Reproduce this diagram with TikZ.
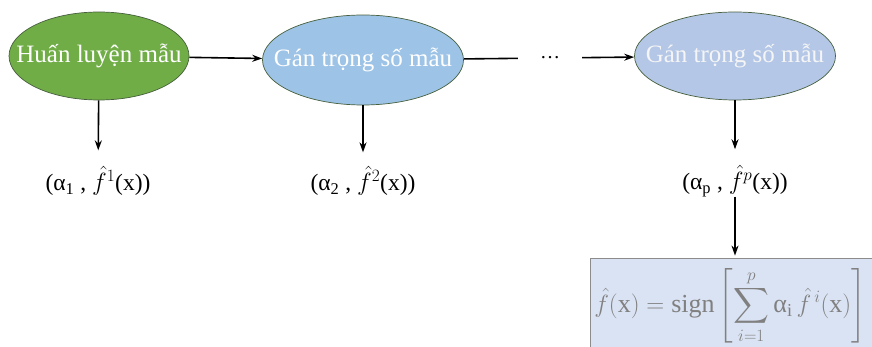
\documentclass[tikz,border=0pt]{standalone}
\usepackage{amsmath}
\usepackage{fontspec}
\setmainfont{Liberation Serif}
\usetikzlibrary{shapes.geometric,arrows.meta}
\definecolor{greenfill}{HTML}{70AD47}
\definecolor{bluefill}{HTML}{9DC3E6}
\definecolor{bluefillb}{HTML}{B4C7E7}
\definecolor{edgecol}{RGB}{70,95,60}
\definecolor{boxfill}{HTML}{DAE3F3}
\definecolor{boxedge}{HTML}{8C8C8C}
\definecolor{boxtext}{HTML}{808080}
\begin{document}
\begin{tikzpicture}[x=1pt,y=-1pt,
  ell/.style={ellipse, draw=edgecol, line width=0.7pt, text=white,
    font=\fontsize{25}{28}\selectfont, inner sep=0pt},
  lbl/.style={font=\fontsize{23.5}{27}\selectfont, inner sep=2pt},
  conn/.style={line width=1.6pt, draw=black},
  arr/.style={conn, -{Stealth[length=10pt,width=7pt]}}
]
\useasboundingbox (0,0) rectangle (872,347);
\clip (0,0) rectangle (872,347);

\node[ell, fill=greenfill, minimum width=180pt, minimum height=88pt] (e1) at (99,56)
  {\makebox[0pt][c]{Huấn luyện mẫu}};
\node[ell, fill=bluefill, minimum width=201pt, minimum height=90pt] (e2) at (363,60)
  {\makebox[0pt][c]{Gán trọng số mẫu}};
\node[ell, fill=bluefillb, minimum width=201pt, minimum height=88pt, text=white!92!gray] (e3) at (735,56)
  {\makebox[0pt][c]{Gán trọng số mẫu}};
\node[lbl, inner xsep=22pt, font=\fontsize{20}{24}\selectfont] (dots) at (550,58) {\dots};

\node[lbl] (l1) at (98,181) {(α\textsubscript{1} , $\hat{f}^{1}$(x))};
\node[lbl] (l2) at (363,181) {(α\textsubscript{2} , $\hat{f}^{2}$(x))};
\node[lbl] (lp) at (735,181) {(α\textsubscript{p} , $\hat{f}^{p}$(x))};

\node[draw=boxedge, line width=0.8pt, fill=boxfill, text=boxtext,
  minimum width=290pt, minimum height=97pt, inner sep=0pt,
  font=\fontsize{26}{30}\selectfont] (res) at (735,306.5)
  {\hspace*{-10pt}$\displaystyle \hat{f}(\mathrm{x}) = \operatorname{sign}\left[\sum_{i=1}^{p} \textnormal{α}_{\mathrm{i}}\,\hat{f}^{\,i}(\mathrm{x})\right]$};

\draw[arr] (e1) -- (e2);
\draw[conn] (e2) -- (dots);
\draw[arr] (dots) -- (e3);
\draw[arr, shorten >=14pt] (e1) -- (l1);
\draw[arr, shorten >=12pt] (e2) -- (l2);
\draw[arr, shorten >=14pt] (e3) -- (lp);
\draw[arr, shorten >=2pt, shorten <=-2pt] (lp) -- (res);
\end{tikzpicture}
\end{document}
